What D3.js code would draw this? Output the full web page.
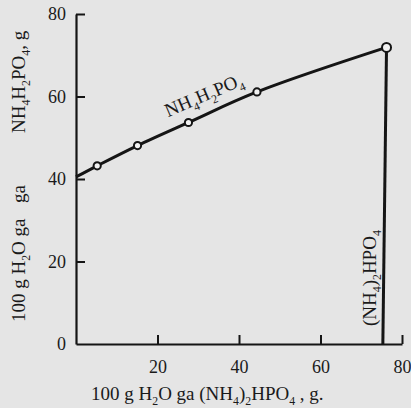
<!DOCTYPE html>
<html>
<head>
<meta charset="utf-8">
<script src="https://cdn.jsdelivr.net/npm/d3@7"></script>
<style>
  body { margin: 0; background: #e5e5e5; }
  svg, svg text { font-family: "Liberation Serif", "Times New Roman", Times, serif; }
</style>
</head>
<body>
<div id="chart"></div>
<script>
// solubility branch of NH4H2PO4 (x: (NH4)2HPO4, y: NH4H2PO4, g per 100 g H2O)
const mapX = [0, 5.2, 15.1, 27.6, 44.4, 76.2];
const mapY = [40.5, 43.2, 48.1, 53.7, 61.1, 71.9];
const markerIdx = [1, 2, 3, 4, 5];
// (NH4)2HPO4 branch
const dapX = [76.2, 75.3];
const dapY = [71.9, 0];
const xTicks = [20, 40, 60, 80];
const yTicks = [0, 20, 40, 60, 80];

const w = 411, h = 408;
const margin = {left: 76, right: 9, top: 14, bottom: 64};

const svg = d3.select("#chart")
    .append("svg")
    .attr("width", w)
    .attr("height", h);

svg.append("rect").attr("width", w).attr("height", h).attr("fill", "#e5e5e5");

const x = d3.scaleLinear().domain([0, 80]).range([margin.left, w - margin.right]);
const y = d3.scaleLinear().domain([0, 80]).range([h - margin.bottom, margin.top]);

const ink = "#151515";

let gx = svg.append("g")
    .attr("transform", "translate(0," + y(0) + ")")
    .call(d3.axisBottom(x).tickValues(xTicks).tickSizeInner(-9).tickSizeOuter(0).tickPadding(16));

let gy = svg.append("g")
    .attr("transform", "translate(" + x(0) + ",0)")
    .call(d3.axisLeft(y).tickValues(yTicks).tickSizeInner(-9).tickSizeOuter(0).tickPadding(10));

[gx, gy].forEach(g => {
    g.attr("font-family", null).attr("font-size", null);
    g.select(".domain").attr("stroke", ink).attr("stroke-width", 2.2);
    g.selectAll(".tick line").attr("stroke", ink).attr("stroke-width", 2);
    g.selectAll(".tick text")
        .attr("fill", "#1a1a1a")
        .attr("font-size", 18);
});
gy.selectAll(".tick line").filter(d => d == 0).remove();

// curves
const mapData = mapX.map((v, i) => [v, mapY[i]]);
const dapData = dapX.map((v, i) => [v, dapY[i]]);

const line = d3.line()
    .x(d => x(d[0]))
    .y(d => y(d[1]));

svg.append("path")
    .datum(mapData)
    .attr("fill", "none")
    .attr("stroke", ink)
    .attr("stroke-width", 3)
    .attr("stroke-linejoin", "round")
    .attr("d", line.curve(d3.curveCatmullRom));

svg.append("path")
    .datum(dapData)
    .attr("fill", "none")
    .attr("stroke", ink)
    .attr("stroke-width", 3)
    .attr("d", d3.line().x(d => x(d[0])).y(d => y(d[1])));

svg.selectAll("circle.pt")
    .data(markerIdx.map(i => mapData[i]))
    .enter()
    .append("circle")
    .attr("class", "pt")
    .attr("cx", d => x(d[0]))
    .attr("cy", d => y(d[1]))
    .attr("r", (d, i) => i == markerIdx.length - 1 ? 4.5 : 3.6)
    .attr("fill", "#f2f2f2")
    .attr("stroke", ink)
    .attr("stroke-width", 2);

// text with subscripts
function chem(sel, parts, size) {
    let shift = size * 0.28;
    parts.forEach((p, i) => {
        let sub = p.startsWith("_");
        let prevSub = i > 0 && parts[i - 1].startsWith("_");
        let t = sel.append("tspan").text(sub ? p.slice(1) : p);
        t.attr("font-size", sub ? size * 0.62 : size);
        if (sub && !prevSub) t.attr("dy", shift);
        if (!sub && prevSub) t.attr("dy", -shift);
    });
    return sel;
}

svg.append("text")
    .attr("transform", "translate(" + x(22.6) + "," + y(55.0) + ") rotate(-23)")
    .attr("fill", "#1a1a1a")
    .call(chem, ["NH", "_4", "H", "_2", "PO", "_4"], 19);

svg.append("text")
    .attr("transform", "translate(376,326) rotate(-90)")
    .attr("fill", "#1a1a1a")
    .call(chem, ["(NH", "_4", ")", "_2", "HPO", "_4"], 19);

svg.append("text")
    .attr("x", 91)
    .attr("y", 400)
    .attr("fill", "#1a1a1a")
    .call(chem, ["100 g H", "_2", "O  ga (NH", "_4", ")", "_2", "HPO", "_4", " , g."], 19);

// y title, three pieces
svg.append("text")
    .attr("transform", "translate(25,322) rotate(-90)")
    .attr("fill", "#1a1a1a")
    .call(chem, ["100 g H", "_2", "O ga"], 19);

svg.append("text")
    .attr("transform", "translate(25,203) rotate(-90)")
    .attr("fill", "#1a1a1a")
    .call(chem, ["ga"], 19);

svg.append("text")
    .attr("transform", "translate(25,133) rotate(-90)")
    .attr("fill", "#1a1a1a")
    .call(chem, ["NH", "_4", "H", "_2", "PO", "_4", ", g"], 19);
</script>
</body>
</html>
